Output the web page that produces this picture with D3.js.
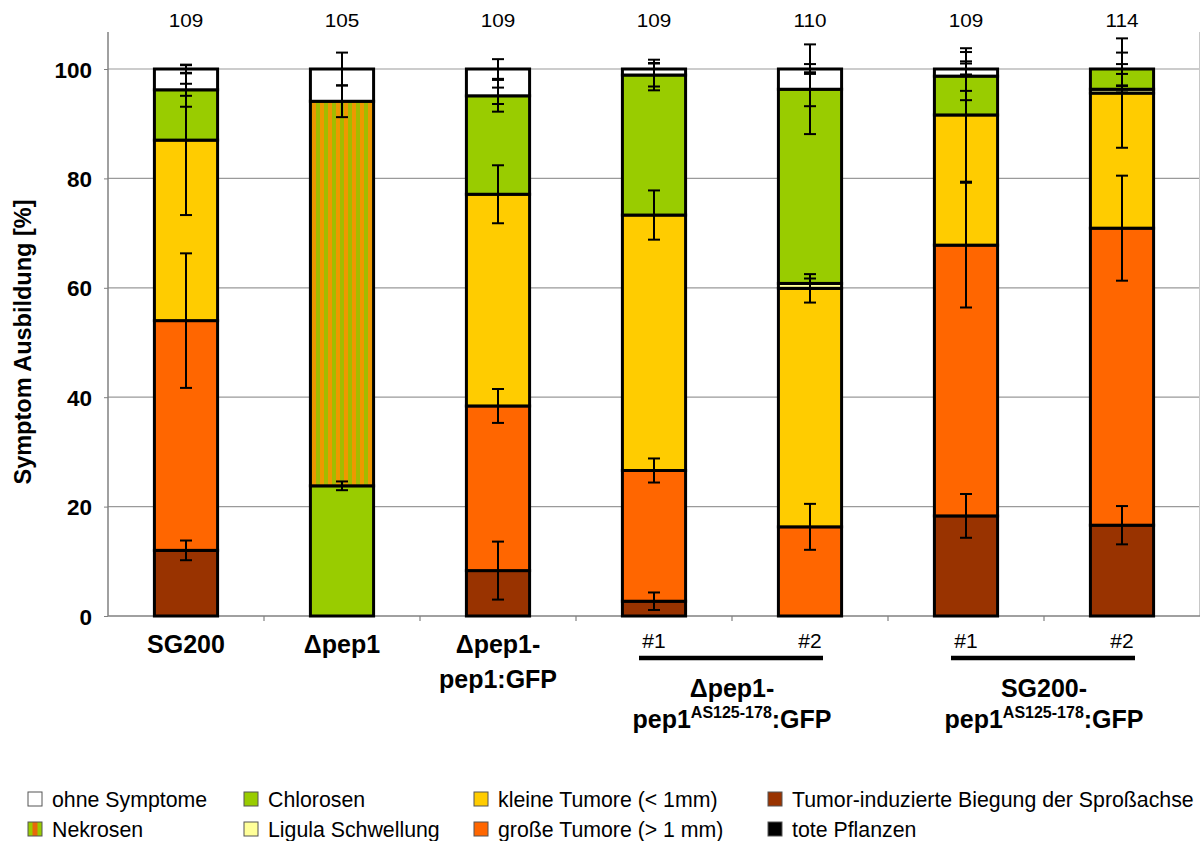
<!DOCTYPE html>
<html>
<head>
<meta charset="utf-8">
<script src="https://cdn.jsdelivr.net/npm/d3@7"></script>
<style>
  html, body { margin: 0; padding: 0; background: #fff; }
  svg { display: block; font-family: "Liberation Sans", Arial, sans-serif; }
</style>
</head>
<body>
<svg id="chart" width="1201" height="841"></svg>
<script>
// ---------------- DATA ----------------
const categories = ["SG200", "Δpep1", "Δpep1-pep1:GFP", "Δpep1-pep1AS #1", "Δpep1-pep1AS #2", "SG200-pep1AS #1", "SG200-pep1AS #2"];
const sampleSizes = [109, 105, 109, 109, 110, 109, 114];
const tickLabels = [["SG200"], ["Δpep1"], ["Δpep1-", "pep1:GFP"], ["#1"], ["#2"], ["#1"], ["#2"]];
const groupLabels = [
  { first: 3, last: 4, line1: "Δpep1-", base: "pep1", sup: "AS125-178", tail: ":GFP" },
  { first: 5, last: 6, line1: "SG200-", base: "pep1", sup: "AS125-178", tail: ":GFP" }
];
const yTicks = [0, 20, 40, 60, 80, 100];

// segment values (%), stacked bottom -> top
const tumorBiegung = [12.0, 0, 8.3, 2.7, 0, 18.3, 16.6];
const grosseTumore = [42.0, 0, 30.1, 23.9, 16.3, 49.5, 54.3];
const kleineTumore = [33.0, 0, 38.7, 46.7, 43.6, 23.8, 24.7];
const ligula       = [0, 0, 0, 0, 0.9, 0, 0.7];
const chlorosen    = [9.2, 23.8, 18.0, 25.6, 35.5, 7.1, 3.7];
const nekrosen     = [0, 70.3, 0, 0, 0, 0, 0];
const ohneSymptome = [3.8, 5.9, 4.9, 1.1, 3.7, 1.3, 0];
const totePflanzen = [0, 0, 0, 0, 0, 0, 0];

// error (±) at each series' cumulative top
const errTumorBiegung = [1.8, 0, 5.3, 1.6, 0, 4.0, 3.5];
const errGrosse       = [12.3, 0, 3.1, 2.2, 4.2, 11.4, 9.6];
const errKleine       = [13.7, 0, 5.3, 4.5, 2.6, 12.2, 10.0];
const errLigula       = [0, 0, 0, 0, 0.9, 0, 0.6];
const errChlorosen    = [1.1, 0.8, 2.9, 2.8, 8.2, 2.7, 3.0];
const errNekrosen     = [3.1, 2.9, 1.5, 2.1, 3.1, 4.4, 0];
const errOhne         = [0.8, 3.0, 1.8, 1.1, 0.9, 1.0, 0.9];
const errTote         = [0, 0, 0, 0, 0, 0, 0];

const seriesNames = ["Tumor-induzierte Biegung der Sproßachse", "große Tumore (> 1 mm)", "kleine Tumore (< 1mm)",
  "Ligula Schwellung", "Chlorosen", "Nekrosen", "ohne Symptome", "tote Pflanzen"];
const seriesValues = [tumorBiegung, grosseTumore, kleineTumore, ligula, chlorosen, nekrosen, ohneSymptome, totePflanzen];
const seriesErrors = [errTumorBiegung, errGrosse, errKleine, errLigula, errChlorosen, errNekrosen, errOhne, errTote];
const seriesFills = ["#993300", "#FF6600", "#FFCC00", "#FFFF99", "#99CC00", "url(#nekrosenPattern)", "#FFFFFF", "#000000"];
const legendOrder = [
  ["ohne Symptome", "Chlorosen", "kleine Tumore (< 1mm)", "Tumor-induzierte Biegung der Sproßachse"],
  ["Nekrosen", "Ligula Schwellung", "große Tumore (> 1 mm)", "tote Pflanzen"]
];

// ---------------- LAYOUT ----------------
const svg = d3.select("#chart");
const plotLeft = 108, plotRight = 1200, plotBottom = 616, plotTopVal = 69, axisTop = 32;

const defs = svg.append("defs");
const pat = defs.append("pattern").attr("id", "nekrosenPattern")
  .attr("patternUnits", "userSpaceOnUse").attr("width", 8).attr("height", 8);
pat.append("rect").attr("width", 8).attr("height", 8).attr("fill", "#A2BC00");
pat.append("rect").attr("width", 4).attr("height", 8).attr("fill", "#EE9800");
const patL = defs.append("pattern").attr("id", "nekrosenLegend")
  .attr("patternUnits", "userSpaceOnUse").attr("width", 14).attr("height", 14);
patL.append("rect").attr("width", 14).attr("height", 14).attr("fill", "#99CC00");
patL.append("rect").attr("x", 4.5).attr("width", 5).attr("height", 14).attr("fill", "#E8680A");

const x = d3.scaleBand().domain(categories).range([plotLeft, plotRight]).padding(0);
const y = d3.scaleLinear().domain([0, 100]).range([plotBottom, plotTopVal]);
const barW = x.bandwidth() * 0.405;
const cx = c => x(c) + x.bandwidth() / 2;

// gridlines
svg.append("g").selectAll("line").data(yTicks.filter(v => v > 0)).join("line")
  .attr("x1", plotLeft).attr("x2", plotRight)
  .attr("y1", d => y(d)).attr("y2", d => y(d))
  .attr("stroke", "#9a9a9a").attr("stroke-width", 1.2);

// right border line
svg.append("line").attr("x1", plotRight - 0.5).attr("x2", plotRight - 0.5)
  .attr("y1", axisTop).attr("y2", plotBottom).attr("stroke", "#c8c8c8").attr("stroke-width", 1);

// y axis
const yAxis = svg.append("g").attr("transform", `translate(${plotLeft},0)`)
  .call(d3.axisLeft(y).tickValues(yTicks).tickSize(4).tickFormat(d3.format("d")));
yAxis.select(".domain").remove();
yAxis.selectAll(".tick line").attr("stroke", "#808080");
yAxis.selectAll(".tick text").attr("font-size", 22.5).attr("font-weight", "bold")
  .attr("fill", "#000").attr("x", -16).attr("dy", "0.36em")
  .attr("font-family", "Liberation Sans, Arial, sans-serif");
svg.append("line").attr("x1", plotLeft).attr("x2", plotLeft).attr("y1", axisTop).attr("y2", plotBottom)
  .attr("stroke", "#808080").attr("stroke-width", 1.5);

// x axis line + boundary ticks
svg.append("line").attr("x1", plotLeft).attr("x2", plotRight).attr("y1", plotBottom).attr("y2", plotBottom)
  .attr("stroke", "#808080").attr("stroke-width", 1.5);
svg.append("g").selectAll("line").data(categories.slice(1)).join("line")
  .attr("x1", d => x(d)).attr("x2", d => x(d)).attr("y1", plotBottom).attr("y2", plotBottom + 5)
  .attr("stroke", "#808080").attr("stroke-width", 1.2);

// stacked data
const keys = seriesNames;
const rows = categories.map((c, i) => {
  const r = { cat: c };
  keys.forEach((k, j) => r[k] = seriesValues[j][i]);
  return r;
});
const stacked = d3.stack().keys(keys)(rows);

// bars
const gBars = svg.append("g");
stacked.forEach((layer, j) => {
  gBars.append("g").selectAll("rect")
    .data(layer.filter(d => d[1] - d[0] > 0))
    .join("rect")
    .attr("x", d => cx(d.data.cat) - barW / 2)
    .attr("width", barW)
    .attr("y", d => y(d[1]))
    .attr("height", d => y(d[0]) - y(d[1]))
    .attr("fill", seriesFills[j])
    .attr("stroke", "#000").attr("stroke-width", 3);
});

// error bars
const gErr = svg.append("g").attr("stroke", "#000").attr("stroke-width", 2);
stacked.forEach((layer, j) => {
  layer.forEach((d, i) => {
    const e = seriesErrors[j][i];
    if (!e) return;
    const xc = cx(d.data.cat);
    const top = d[1];
    gErr.append("line").attr("x1", xc).attr("x2", xc).attr("y1", y(top + e)).attr("y2", y(top - e));
    gErr.append("line").attr("x1", xc - 6).attr("x2", xc + 6).attr("y1", y(top + e)).attr("y2", y(top + e));
    gErr.append("line").attr("x1", xc - 6).attr("x2", xc + 6).attr("y1", y(top - e)).attr("y2", y(top - e));
  });
});

// sample size labels
svg.append("g").selectAll("text").data(categories).join("text")
  .attr("transform", d => `translate(${cx(d)},27) scale(1.12,1)`)
  .attr("text-anchor", "middle").attr("font-size", 18.5).attr("fill", "#000")
  .text((d, i) => sampleSizes[i]);

// y title
svg.append("text").attr("transform", "translate(31,342) rotate(-90)")
  .attr("text-anchor", "middle").attr("font-size", 23.5).attr("font-weight", "bold")
  .text("Symptom Ausbildung [%]");

// x tick labels
categories.forEach((c, i) => {
  const lines = tickLabels[i];
  const isSub = lines[0].startsWith("#");
  lines.forEach((ln, k) => {
    svg.append("text").attr("x", cx(c)).attr("y", isSub ? 648 : 653 + k * 35)
      .attr("text-anchor", "middle")
      .attr("font-size", isSub ? 21 : 25).attr("font-weight", isSub ? "normal" : "bold")
      .text(ln);
  });
});

// group lines and labels
groupLabels.forEach(g => {
  const a = cx(categories[g.first]), b = cx(categories[g.last]);
  svg.append("line").attr("x1", a - 15).attr("x2", b + 13).attr("y1", 658).attr("y2", 658)
    .attr("stroke", "#000").attr("stroke-width", 4.5);
  const mid = (a + b) / 2;
  svg.append("text").attr("x", mid).attr("y", 697).attr("text-anchor", "middle")
    .attr("font-size", 25).attr("font-weight", "bold").text(g.line1);
  const t = svg.append("text").attr("x", mid).attr("y", 728).attr("text-anchor", "middle")
    .attr("font-size", 25).attr("font-weight", "bold");
  t.append("tspan").text(g.base);
  t.append("tspan").attr("font-size", 16).attr("dy", -10).text(g.sup);
  t.append("tspan").attr("dy", 10).text(g.tail);
});

// legend
const legendCols = [28, 244, 474, 768];
const legendRows = [799, 829];
legendOrder.forEach((row, r) => {
  row.forEach((name, ci) => {
    const j = seriesNames.indexOf(name);
    const fill = name === "Nekrosen" ? "url(#nekrosenLegend)" : seriesFills[j];
    const lx = legendCols[ci], ly = legendRows[r];
    svg.append("rect").attr("x", lx).attr("y", ly - 7).attr("width", 14).attr("height", 14)
      .attr("fill", fill).attr("stroke", "#555").attr("stroke-width", 1);
    svg.append("text").attr("x", lx + 24).attr("y", ly).attr("dy", "0.36em")
      .attr("font-size", 21.3).attr("fill", "#000").text(name);
  });
});
</script>
</body>
</html>
